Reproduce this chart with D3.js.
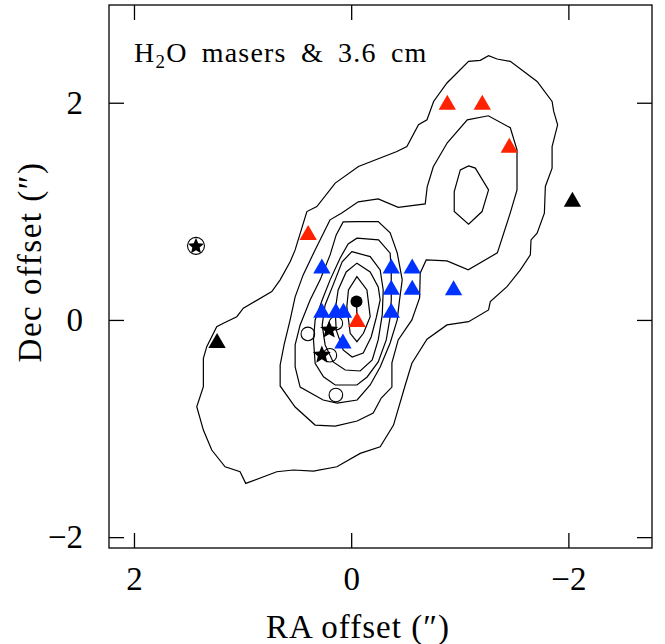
<!DOCTYPE html>
<html lang="en">
<head>
<meta charset="UTF-8">
<title>H2O masers &amp; 3.6 cm</title>
<script src="https://cdn.jsdelivr.net/npm/d3@7"></script>
<style>
	body { margin: 0; background: #fff; }
	text { font-family: "Liberation Serif", "Times New Roman", serif; fill: #000; }
	.axis path.domain { display: none; }
	.axis line { stroke: #000; stroke-width: 1.3; }
</style>
</head>
<body>
<div id="chart"></div>
<script>
// tick values (arcsec)
var raTicks = [2, 0, -2];
var decTicks = [2, 0, -2];

// 3.6 cm continuum contours, [RA offset, Dec offset] in arcsec
var contour1 = [[0.971,-1.505],[1.023,-1.398],[1.161,-1.352],[1.284,-1.198],[1.361,-1.014],[1.422,-0.799],[1.361,-0.615],[1.361,-0.353],[1.330,-0.246],[1.238,-0.062],[1.177,-0.030],[1.053,0.030],[0.993,0.108],[0.731,0.261],[0.654,0.369],[0.562,0.535],[0.516,0.645],[0.408,0.998],[0.316,1.044],[0.147,1.260],[-0.067,1.413],[-0.421,1.551],[-0.513,1.597],[-0.620,1.797],[-0.698,1.843],[-0.759,2.012],[-0.882,2.182],[-1.081,2.381],[-1.189,2.390],[-1.265,2.433],[-1.343,2.403],[-1.465,2.381],[-1.712,2.196],[-1.850,2.012],[-1.865,1.920],[-1.901,1.797],[-1.850,1.597],[-1.850,1.398],[-1.788,1.229],[-1.779,0.983],[-1.712,0.799],[-1.656,0.737],[-1.650,0.599],[-1.558,0.461],[-1.435,0.307],[-1.281,0.169],[-1.265,0.092],[-1.081,-0.016],[-0.882,-0.046],[-0.698,-0.178],[-0.559,-0.399],[-0.498,-0.599],[-0.390,-0.968],[-0.267,-1.168],[-0.083,-1.229],[0.132,-1.352],[0.347,-1.392],[0.532,-1.382],[0.685,-1.398]];
var contour2 = [[0.194,0.922],[0.332,0.645],[0.442,0.415],[0.516,0.212],[0.562,0.000],[0.618,-0.230],[0.654,-0.415],[0.654,-0.608],[0.516,-0.802],[0.332,-0.968],[0.147,-0.977],[-0.055,-0.931],[-0.203,-0.857],[-0.277,-0.719],[-0.375,-0.618],[-0.375,-0.396],[-0.433,-0.184],[-0.559,0.000],[-0.630,0.203],[-0.636,0.433],[-0.691,0.553],[-0.882,0.544],[-1.078,0.461],[-1.346,0.618],[-1.465,0.986],[-1.527,1.198],[-1.527,1.567],[-1.465,1.770],[-1.263,1.880],[-1.069,1.843],[-0.885,1.631],[-0.756,1.410],[-0.700,1.226],[-0.682,1.069],[-0.433,1.037],[-0.249,1.115],[-0.065,1.088],[0.083,0.986]];
var contourPeakNW = [[-1.081,1.419],[-1.143,1.398],[-1.265,1.198],[-1.205,0.998],[-1.081,0.882],[-0.949,0.998],[-0.949,1.182],[-1.005,1.382]];
var contour3 = [[0.074,0.903],[-0.055,0.906],[-0.249,0.906],[-0.359,0.802],[-0.424,0.618],[-0.470,0.369],[-0.442,0.157],[-0.424,0.000],[-0.359,-0.212],[-0.267,-0.433],[-0.175,-0.599],[-0.055,-0.737],[0.129,-0.765],[0.258,-0.737],[0.470,-0.618],[0.516,-0.433],[0.516,-0.230],[0.470,-0.046],[0.378,0.184],[0.286,0.369],[0.194,0.599],[0.138,0.783]];
var contour4 = [[-0.053,0.753],[-0.252,0.737],[-0.359,0.615],[-0.369,0.433],[-0.369,0.184],[-0.359,0.028],[-0.323,-0.184],[-0.249,-0.387],[-0.147,-0.525],[-0.053,-0.599],[0.147,-0.599],[0.255,-0.523],[0.332,-0.399],[0.347,-0.184],[0.332,0.000],[0.267,0.184],[0.194,0.369],[0.101,0.571],[0.028,0.700]];
var contour5 = [[-0.006,0.629],[-0.175,0.583],[-0.267,0.461],[-0.295,0.276],[-0.286,0.046],[-0.249,-0.184],[-0.194,-0.369],[-0.083,-0.470],[0.055,-0.461],[0.166,-0.387],[0.240,-0.230],[0.267,-0.046],[0.240,0.138],[0.166,0.323],[0.083,0.535]];
var contour6 = [[-0.053,0.523],[-0.175,0.442],[-0.249,0.304],[-0.267,0.184],[-0.230,0.018],[-0.184,-0.157],[-0.111,-0.304],[-0.009,-0.341],[0.074,-0.276],[0.138,-0.092],[0.147,0.092],[0.120,0.276],[0.046,0.442]];
var contour7 = [[-0.053,0.399],[-0.145,0.276],[-0.175,0.030],[-0.113,-0.123],[-0.053,-0.200],[0.009,-0.123],[0.040,0.123],[0.025,0.276]];
var contours = [contour1, contour2, contourPeakNW, contour3, contour4, contour5, contour6, contour7];

// H2O maser spots
var redMasers = [[-0.885,1.982],[-1.207,1.982],[-1.456,1.585],[0.396,0.783],[-0.055,-0.018]];
var blueMasers = [[0.270,0.473],[-0.369,0.473],[-0.562,0.473],[-0.369,0.279],[-0.562,0.279],[0.270,0.067],[0.141,0.067],[0.071,0.067],[-0.369,0.067],[0.076,-0.218],[-0.943,0.274]];
var blackMasers = [[-2.037,1.088],[1.235,-0.212]];
// other sources
var stars = [[0.203,-0.092],[0.270,-0.323]];
var circledStars = [[1.429,0.682]];
var openCircles = [[0.399,-0.129],[0.141,-0.030],[0.196,-0.325],[0.141,-0.691]];
var filledCircles = [[-0.049,0.169]];

var w = 665, h = 644;
var margin = {top: 5, left: 109},
	width = 543,
	height = 543;

var x = d3.scaleLinear().domain([2.23, -2.77]).range([0, width]);
var y = d3.scaleLinear().domain([-2.1, 2.9]).range([height, 0]);

var svg = d3.select("#chart").append("svg")
	.attr("width", w)
	.attr("height", h);
var g = svg.append("g")
	.attr("transform", `translate(${margin.left},${margin.top})`);

// contours
var line = d3.line()
	.x(d => x(d[0]))
	.y(d => y(d[1]))
	.curve(d3.curveLinearClosed);

g.selectAll("path.contour")
	.data(contours)
	.enter()
	.append("path")
	.attr("class", "contour")
	.attr("d", line)
	.attr("fill", "none")
	.attr("stroke", "#000")
	.attr("stroke-width", 1.2);

// axes: ticks inside on all four sides
var tick = 15;
g.append("g").attr("class", "axis")
	.attr("transform", `translate(0,${height})`)
	.call(d3.axisBottom(x).tickValues(raTicks).tickSizeInner(-tick).tickSizeOuter(0).tickPadding(19).tickFormat(d3.format("d")))
	.selectAll("text").style("font-size", "33px").style("font-family", "Liberation Serif");
g.append("g").attr("class", "axis")
	.call(d3.axisTop(x).tickValues(raTicks).tickSizeInner(-tick).tickSizeOuter(0).tickFormat(""));
g.append("g").attr("class", "axis")
	.call(d3.axisLeft(y).tickValues(decTicks).tickSizeInner(-tick).tickSizeOuter(0).tickPadding(26).tickFormat(d3.format("d")))
	.selectAll("text").style("font-size", "33px").style("font-family", "Liberation Serif");
g.append("g").attr("class", "axis")
	.attr("transform", `translate(${width},0)`)
	.call(d3.axisRight(y).tickValues(decTicks).tickSizeInner(-tick).tickSizeOuter(0).tickFormat(""));

g.append("rect")
	.attr("width", width)
	.attr("height", height)
	.attr("fill", "none")
	.attr("stroke", "#000")
	.attr("stroke-width", 1.3);

// line joining the filled circle to the central maser
g.append("line")
	.attr("x1", x(filledCircles[0][0]))
	.attr("y1", y(filledCircles[0][1]))
	.attr("x2", x(redMasers[4][0]))
	.attr("y2", y(redMasers[4][1]))
	.attr("stroke", "#000")
	.attr("stroke-width", 1.3);

var tri = d3.symbol().type(d3.symbolTriangle).size(130);

// five-pointed star, fatter than d3.symbolStar
function starPath(r) {
	var p = d3.path(), ri = r * 0.45;
	for (var i = 0; i < 10; i++) {
		var a = -Math.PI / 2 + i * Math.PI / 5,
			rr = i % 2 ? ri : r;
		if (i === 0) p.moveTo(rr * Math.cos(a), rr * Math.sin(a));
		else p.lineTo(rr * Math.cos(a), rr * Math.sin(a));
	}
	p.closePath();
	return p.toString();
}

function triangles(data, color) {
	g.selectAll(null)
		.data(data)
		.enter()
		.append("path")
		.attr("d", tri)
		.attr("transform", d => `translate(${x(d[0])},${y(d[1])})`)
		.attr("fill", color);
}

g.selectAll(null)
	.data(openCircles)
	.enter()
	.append("circle")
	.attr("cx", d => x(d[0]))
	.attr("cy", d => y(d[1]))
	.attr("r", 6.8)
	.attr("fill", "none")
	.attr("stroke", "#000")
	.attr("stroke-width", 1.1);

triangles(blueMasers, "#0033ff");
triangles(redMasers, "#ff2200");
triangles(blackMasers, "#000");

g.selectAll(null)
	.data(filledCircles)
	.enter()
	.append("circle")
	.attr("cx", d => x(d[0]))
	.attr("cy", d => y(d[1]))
	.attr("r", 6)
	.attr("fill", "#000");

g.selectAll(null)
	.data(stars)
	.enter()
	.append("path")
	.attr("d", starPath(9.5))
	.attr("transform", d => `translate(${x(d[0])},${y(d[1])})`)
	.attr("fill", "#000");

g.selectAll(null)
	.data(circledStars)
	.enter()
	.append("path")
	.attr("d", starPath(8.5))
	.attr("transform", d => `translate(${x(d[0])},${y(d[1]) + 0.5})`)
	.attr("fill", "#000");

g.selectAll(null)
	.data(circledStars)
	.enter()
	.append("circle")
	.attr("cx", d => x(d[0]))
	.attr("cy", d => y(d[1]))
	.attr("r", 8.5)
	.attr("fill", "none")
	.attr("stroke", "#000")
	.attr("stroke-width", 1.1);

// title
var title = g.append("text")
	.attr("x", 25)
	.attr("y", 57)
	.style("font-size", "28px")
	.style("letter-spacing", "1.2px")
	.style("word-spacing", "6px");
title.append("tspan").text("H");
title.append("tspan").attr("dy", 6).style("font-size", "19px").text("2");
title.append("tspan").attr("dy", -6).text("O masers & 3.6 cm");

// axis titles
svg.append("text")
	.attr("x", 358)
	.attr("y", 638)
	.attr("text-anchor", "middle")
	.style("font-size", "33px")
	.style("letter-spacing", "1px")
	.text("RA offset (\u2033)");

svg.append("text")
	.attr("transform", "translate(41,262) rotate(-90)")
	.attr("text-anchor", "middle")
	.style("font-size", "33px")
	.style("letter-spacing", "1.5px")
	.text("Dec offset (\u2033)");
</script>
</body>
</html>
